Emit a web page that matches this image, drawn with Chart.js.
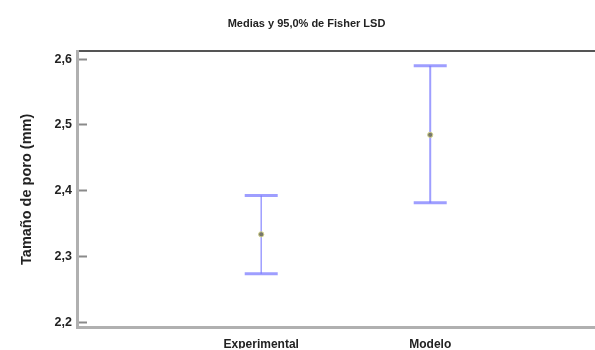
<!DOCTYPE html>
<html>
<head>
<meta charset="utf-8">
<script src="https://cdn.jsdelivr.net/npm/chart.js@4/dist/chart.umd.min.js"></script>
<style>
  html, body { margin: 0; padding: 0; background: #fff; }
  #wrap { width: 595px; height: 350px; }
</style>
</head>
<body>
<div id="wrap"><canvas id="c" width="595" height="350"></canvas></div>
<script>
// Groups compared and their means with 95% Fisher LSD intervals
const categories = ['Experimental', 'Modelo'];
const means = [2.334, 2.485];
const lowerLimits = [2.274, 2.382];
const upperLimits = [2.393, 2.590];
const yTicks = [2.2, 2.3, 2.4, 2.5, 2.6];

const barColor = 'rgba(120, 120, 255, 0.72)';
const FONT = '"Liberation Sans", Arial, sans-serif';

// One line dataset per group: vertical segment from lower to upper limit,
// with 'line' point style giving the horizontal caps.
const intervalSets = categories.map((name, i) => ({
  type: 'line',
  label: name + ' LSD',
  data: [{ x: i + 1, y: lowerLimits[i] }, { x: i + 1, y: upperLimits[i] }],
  showLine: true,
  borderColor: barColor,
  borderWidth: i === 0 ? 1.5 : 2,
  pointStyle: 'line',
  pointRadius: 16.5,
  pointBorderWidth: 3,
  pointBorderColor: barColor,
  pointBackgroundColor: barColor,
  order: 2
}));

const meanSet = {
  type: 'scatter',
  label: 'Medias',
  data: categories.map((_, i) => ({ x: i + 1, y: means[i] })),
  pointRadius: 2.6,
  pointBackgroundColor: '#77776a',
  pointBorderColor: '#d2d28c',
  pointBorderWidth: 1,
  order: 1
};

new Chart(document.getElementById('c'), {
  type: 'scatter',
  data: { datasets: [...intervalSets, meanSet] },
  options: {
    responsive: false,
    animation: false,
    events: [],
    layout: { autoPadding: false, padding: { left: 18, right: 0, top: 0, bottom: 0 } },
    plugins: {
      legend: { display: false },
      tooltip: { enabled: false },
      title: {
        display: true,
        text: 'Medias y 95,0% de Fisher LSD',
        color: '#222',
        font: { family: FONT, size: 11, weight: 'bold' },
        padding: { top: 17, bottom: 21 }
      }
    },
    scales: {
      x: {
        type: 'linear',
        min: -0.09,
        max: 2.975,
        afterBuildTicks: (s) => { s.ticks = categories.map((_, i) => ({ value: i + 1 })); },
        afterFit: (s) => { s.height = 21; },
        ticks: {
          callback: (v) => categories[v - 1] || '',
          color: '#222',
          font: { family: FONT, size: 12, weight: 'bold' },
          padding: 10,
          maxRotation: 0,
          autoSkip: false
        },
        grid: { drawOnChartArea: false, drawTicks: false },
        border: { display: true, color: '#b0b0b0', width: 3 }
      },
      xTop: {
        type: 'linear',
        position: 'top',
        min: -0.09,
        max: 2.975,
        afterFit: (s) => { s.height = 0; },
        ticks: { display: false },
        grid: { drawOnChartArea: false, drawTicks: false },
        border: { display: true, color: '#555', width: 2 }
      },
      y: {
        type: 'linear',
        min: 2.1925,
        max: 2.612,
        afterBuildTicks: (s) => { s.ticks = yTicks.map(v => ({ value: v })); },
        afterFit: (s) => { s.width = 59; },
        ticks: {
          callback: (v) => v.toFixed(1).replace('.', ','),
          color: '#222',
          font: { family: FONT, size: 12.5, weight: 'bold' },
          padding: 15
        },
        grid: {
          drawOnChartArea: false,
          drawTicks: true,
          tickLength: -10,
          tickWidth: 2,
          tickColor: '#8a8a8a'
        },
        border: { display: true, color: '#b0b0b0', width: 3 },
        title: {
          display: true,
          text: 'Tamaño de poro (mm)',
          color: '#222',
          font: { family: FONT, size: 14.5, weight: 'bold' },
          padding: { top: 0, bottom: 0 }
        }
      }
    }
  }
});
</script>
</body>
</html>
